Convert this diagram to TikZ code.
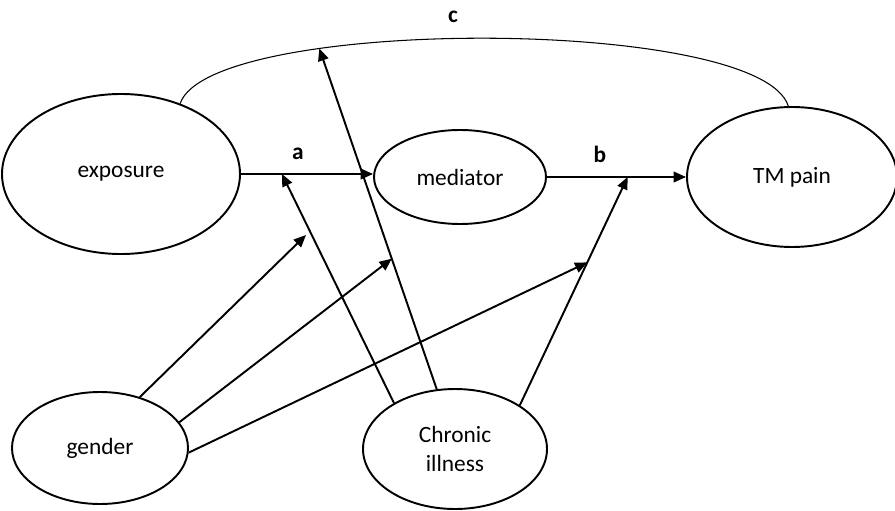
\documentclass[tikz,border=0pt]{standalone}
\usepackage{fontspec}
\setmainfont{Carlito}
\usetikzlibrary{shapes.geometric,arrows.meta}
\tikzset{
  oval/.style={draw, ellipse, line width=1.1pt, inner sep=0pt, font=\fontsize{13.3}{16.6}\selectfont, align=center},
  arr/.style={line width=1.1pt, -{Triangle[length=7pt,width=6pt]}},
  lbl/.style={font=\fontsize{13.3}{15}\selectfont\bfseries}
}
\begin{document}
\begin{tikzpicture}[x=0.02cm,y=-0.02cm]
\useasboundingbox (0,0) rectangle (895,510);
\node[oval, minimum width=238*0.02cm, minimum height=160*0.02cm] (exposure) at (121,174) {exposure};
\node[oval, minimum width=172*0.02cm, minimum height=94*0.02cm] (mediator) at (460,177) {mediator};
\node[oval, minimum width=210*0.02cm, minimum height=140*0.02cm] (tm) at (792,177) {TM pain};
\node[oval, minimum width=176*0.02cm, minimum height=112*0.02cm] (gender) at (100,448) {gender};
\node[oval, minimum width=184*0.02cm, minimum height=120*0.02cm] (chronic) at (455,449) {Chronic\\illness};

% c arc
\draw[line width=0.6pt] (exposure.50) .. controls (210,16) and (760,16) .. (tm.93) coordinate[pos=0.3] (tc);
\node[lbl] (c) at (453,17) {c};

% a and b
\draw[arr] (exposure.east) -- (exposure.east -| mediator.west) coordinate[pos=0.31] (ta);
\node[lbl] (a) at (298,154) {a};
\draw[arr] (mediator.east) -- (tm.west) coordinate[pos=0.58] (tb);
\node[lbl] (b) at (600,154) {b};

% chronic illness arrows
\draw[arr] (chronic.143) -- (ta);
\draw[arr] (chronic.107) -- (tc) coordinate[pos=0.383] (tcl);
\draw[arr] (chronic.34.5) -- (tb) coordinate[pos=0.626] (tbl);

% gender arrows
\coordinate (t1) at (306,235);
\draw[arr] (gender.52) -- (t1);
\draw[arr] (gender.18) -- (tcl);
\draw[arr] (gender.-3) -- (tbl);
\end{tikzpicture}
\end{document}
